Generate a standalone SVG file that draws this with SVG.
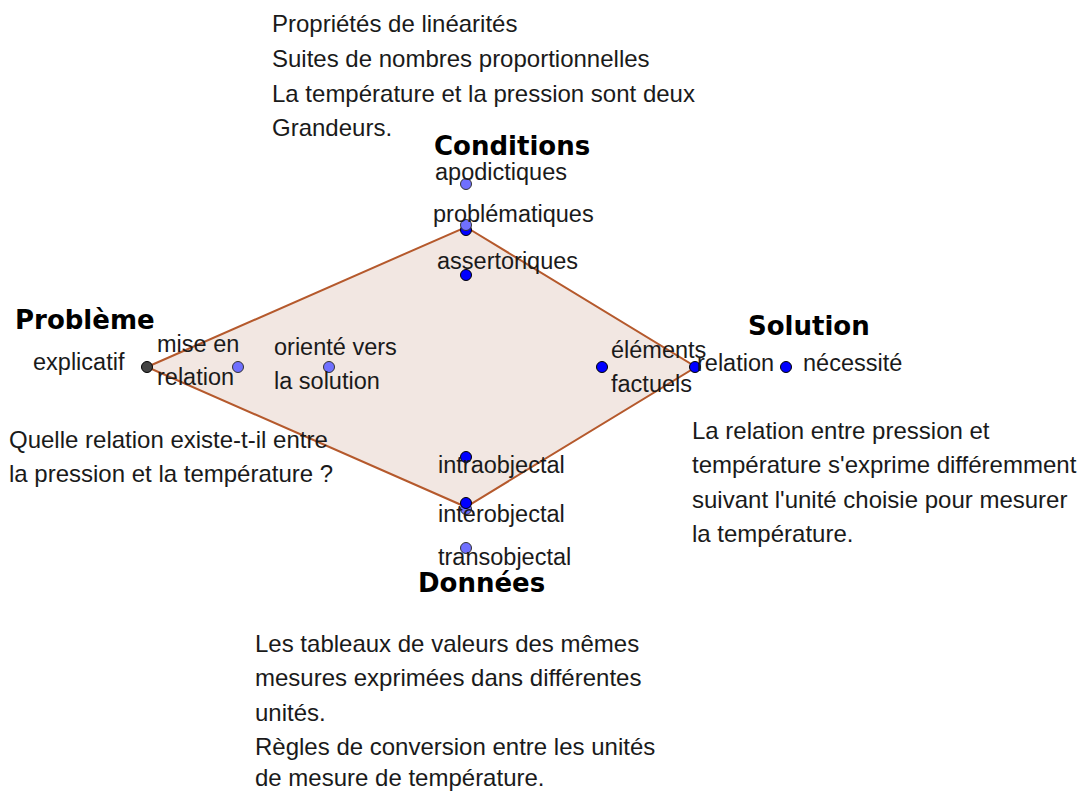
<svg xmlns="http://www.w3.org/2000/svg" width="1082" height="791" viewBox="0 0 1082 791">
<style>
text{font-family:"Liberation Sans",Arial,sans-serif;fill:#1a1a1a}
.t{font-size:24px}
.s{font-size:23.5px}
.h{font-family:"DejaVu Sans",sans-serif;font-size:26px;font-weight:bold;fill:#000}
.pl{fill:#7070ff;stroke:#333;stroke-width:1}
.pb{fill:#0000ff;stroke:#000;stroke-width:1}
.pd{fill:#444;stroke:#000;stroke-width:1}
</style>
<rect width="1082" height="791" fill="#fff"/>
<g id="connectors">
<polygon points="147,367 466,227 696,367 466,507" fill="#f2e7e2" stroke="#b5592c" stroke-width="2"/>
</g>
<g id="conditions">
<text class="h" x="434" y="155">Conditions</text>
<text class="t" x="272" y="32">Propriétés de linéarités</text>
<text class="t" x="272" y="67">Suites de nombres proportionnelles</text>
<text class="t" x="272" y="102">La température et la pression sont deux</text>
<text class="t" x="272" y="136">Grandeurs.</text>
</g>
<g id="apodictiques"><circle class="pl" cx="466" cy="184" r="5.5"/><text class="s" x="435" y="180">apodictiques</text></g>
<g id="problematiques"><circle class="pb" cx="466" cy="230" r="5.5"/><circle class="pl" cx="466" cy="225" r="5.5"/><text class="s" x="433" y="222">problématiques</text></g>
<g id="assertoriques"><circle class="pb" cx="466" cy="275" r="5.5"/><text class="s" x="437" y="269">assertoriques</text></g>
<g id="probleme">
<text class="h" x="15" y="329">Problème</text>
<circle class="pd" cx="147" cy="367" r="5.5"/>
<text class="s" x="33" y="370">explicatif</text>
<text class="t" x="9" y="448">Quelle relation existe-t-il entre</text>
<text class="t" x="9" y="482">la pression et la température ?</text>
</g>
<g id="mise-en-relation"><circle class="pl" cx="238" cy="367" r="5.5"/><text class="s" x="157" y="352">mise en</text><text class="s" x="157" y="385">relation</text></g>
<g id="oriente"><circle class="pl" cx="329" cy="367" r="5.5"/><text class="s" x="274" y="355">orienté vers</text><text class="s" x="274" y="389">la solution</text></g>
<g id="elements"><circle class="pb" cx="602" cy="367" r="5.5"/><text class="s" x="611" y="358">éléments</text><text class="s" x="611" y="392">factuels</text></g>
<g id="solution">
<text class="h" x="748" y="335">Solution</text>
<circle class="pb" cx="695" cy="367" r="5.5"/>
<text class="s" x="697" y="371">relation</text>
<text class="t" x="692" y="439">La relation entre pression et</text>
<text class="t" x="692" y="473">température s'exprime différemment</text>
<text class="t" x="692" y="508">suivant l'unité choisie pour mesurer</text>
<text class="t" x="692" y="542">la température.</text>
</g>
<g id="necessite"><circle class="pb" cx="786" cy="367" r="5.5"/><text class="s" x="803" y="371">nécessité</text></g>
<g id="intraobjectal"><circle class="pb" cx="466" cy="457" r="5.5"/><text class="s" x="438" y="473">intraobjectal</text></g>
<g id="interobjectal"><circle class="pl" cx="466" cy="509" r="5.5"/><circle class="pb" cx="466" cy="503" r="5.5"/><text class="s" x="438" y="522">interobjectal</text></g>
<g id="transobjectal"><circle class="pl" cx="466" cy="548" r="5.5"/><text class="s" x="438" y="565">transobjectal</text></g>
<g id="donnees">
<text class="h" x="418" y="592">Données</text>
<text class="t" x="255" y="652">Les tableaux de valeurs des mêmes</text>
<text class="t" x="255" y="686">mesures exprimées dans différentes</text>
<text class="t" x="255" y="721">unités.</text>
<text class="t" x="255" y="755">Règles de conversion entre les unités</text>
<text class="t" x="255" y="786">de mesure de température.</text>
</g>
</svg>
